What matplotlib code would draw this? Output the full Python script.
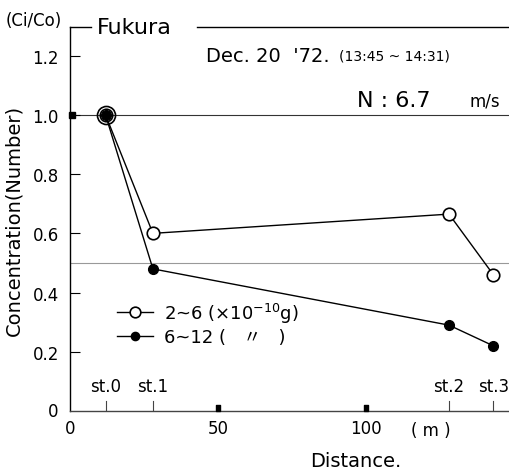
import numpy as np
import matplotlib
matplotlib.use('Agg')
import matplotlib.pyplot as plt
from matplotlib.path import Path

plt.rcParams['font.family'] = ['DejaVu Sans', 'Noto Sans CJK JP']

# Станции (м) и относительные концентрации Ci/Co
stations = ['st.0', 'st.1', 'st.2', 'st.3']
distance = [12, 28, 128, 143]
conc_small = [1.0, 0.60, 0.665, 0.46]   # 2~6 (x10^-10 g)
conc_large = [1.0, 0.48, 0.29, 0.22]    # 6~12

y_ticks = [0.2, 0.4, 0.6, 0.8, 1.0, 1.2]
x_ticks = [0, 50, 100]

fig = plt.figure(figsize=(5.10, 4.77), dpi=100)
ax = fig.add_axes([70 / 510, 65 / 477, 440 / 510, 384 / 477])
ax.set_xlim(0, 148.6)
ax.set_ylim(0, 1.297)

for s in ['top', 'right']:
    ax.spines[s].set_visible(False)
ax.spines['left'].set_linewidth(1.0)
ax.spines['bottom'].set_linewidth(1.0)
ax.spines['bottom'].set_color('#444444')

# Оси и подписи делений
ax.set_yticks(y_ticks)
ax.set_yticklabels([f'{v:.1f}' for v in y_ticks], fontsize=12)
ax.tick_params(axis='y', direction='in', length=7, width=0.8, pad=8)
ax.set_xticks(x_ticks)
ax.set_xticklabels([str(v) for v in x_ticks], fontsize=12)
ax.tick_params(axis='x', length=0, pad=6)
ax.text(-4, 0, '0', fontsize=12, ha='right', va='center')
ax.text(122, -0.035, '( m )', fontsize=12, ha='center', va='top')

# Горизонтальные линии 1.0 и 0.5
ax.axhline(1.0, color='#333333', lw=0.8, zorder=1)
ax.axhline(0.5, color='#999999', lw=0.8, zorder=1)

# Верхняя линия с названием
ax.plot([0, 7], [1.297, 1.297], color='black', lw=1.0, clip_on=False)
ax.plot([43, 148.6], [1.297, 1.297], color='black', lw=1.0, clip_on=False)
ax.text(9, 1.297, 'Fukura', fontsize=16, ha='left', va='center')
fig.text(0.012, 0.955, '(Ci/Co)', fontsize=12, ha='left', va='center')
ax.text(46, 1.2, "Dec. 20  '72.", fontsize=14, ha='left', va='center')
ax.text(91, 1.2, '(13:45 ~ 14:31)', fontsize=10, ha='left', va='center')
ax.text(97, 1.05, 'N : 6.7', fontsize=16, ha='left', va='center')
ax.text(140, 1.05, 'm/s', fontsize=12, ha='center', va='center')

# Маркеры-квадраты на осях
sq = Path([(-0.35, 0), (0.35, 0), (0.35, 1), (-0.35, 1), (-0.35, 0)],
          [Path.MOVETO, Path.LINETO, Path.LINETO, Path.LINETO, Path.CLOSEPOLY])
ax.plot([50, 100], [0, 0], linestyle='', marker=sq, markersize=9,
        color='black', clip_on=False, zorder=5)
ax.plot([0.6], [1.0], linestyle='', marker='s', markersize=5,
        color='black', clip_on=False, zorder=5)

# Станции
for name, d in zip(stations, distance):
    ax.plot([d, d], [0, 0.035], color='#444444', lw=0.8)
    ax.text(d, 0.055, name, fontsize=12, ha='center', va='bottom')

# Данные
ax.plot(distance, conc_small, color='black', lw=1.0, marker='o', markersize=9,
        markerfacecolor='white', markeredgewidth=1.2, zorder=3,
        label=r'2~6 (×10$^{-10}$g)')
ax.plot(distance, conc_large, color='black', lw=1.0, marker='o', markersize=7,
        markerfacecolor='black', zorder=4, label='6~12 (   〃   )')
ax.plot(distance[:1], conc_small[:1], linestyle='', marker='o', markersize=13,
        markerfacecolor='none', markeredgecolor='black', markeredgewidth=1.2, zorder=5)

leg = ax.legend(loc='upper left', bbox_to_anchor=(0.07, 0.33), frameon=False,
                prop={'family': ['DejaVu Sans', 'Noto Sans CJK JP'], 'size': 13},
                handlelength=2.0, handletextpad=0.6, labelspacing=0.2,
                markerscale=0.85)

ax.set_ylabel('Concentration(Number)', fontsize=14, labelpad=2)
ax.yaxis.set_label_coords(-0.105, 0.5)
ax.set_xlabel('Distance.', fontsize=14, labelpad=14)
ax.xaxis.set_label_coords(0.65, -0.105)

fig.savefig('out.png', dpi=100)
